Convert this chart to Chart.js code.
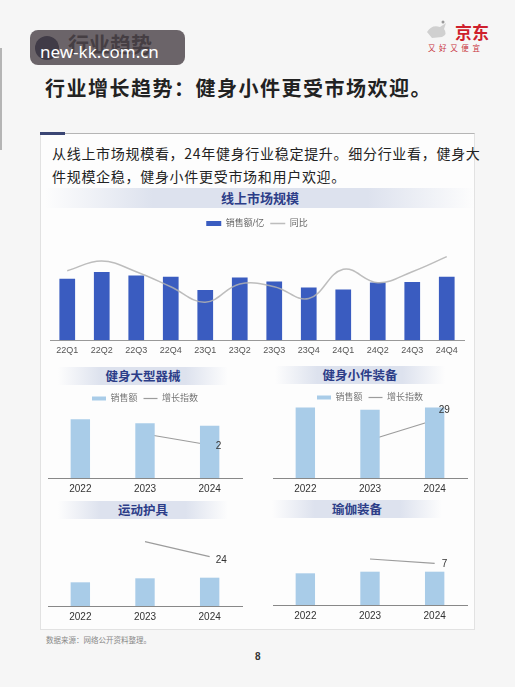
<!DOCTYPE html>
<html>
<head>
<meta charset="utf-8">
<script src="https://cdn.jsdelivr.net/npm/chart.js@4.4.1/dist/chart.umd.min.js"></script>
<style>
    body { margin: 0; width: 515px; height: 687px; background: #f6f6f6; position: relative; overflow: hidden; font-family: 'Noto Sans CJK SC', sans-serif; }
    .abs { position: absolute; }
    .band { position: absolute; height: 19px; line-height: 19px; text-align: center; font-weight: 700; color: #2c3d88;
        background: linear-gradient(to right, rgba(221,226,238,0), #dde2ee 25%, #dde2ee 75%, rgba(221,226,238,0)); }
    .small_band { font-size: 12.5px; height: 18px; line-height: 18px; }
</style>
</head>
<body>

<!-- header -->
<div class="abs" style="left:0;top:48px;width:2px;height:102px;background:#b5b5b5;"></div>
<div class="abs" style="left:35px;top:36px;width:24px;height:24px;border-radius:50%;background:#1f2a4a;"></div>
<div class="abs" style="left:68px;top:31px;font-size:21px;font-weight:700;color:#3a3a3a;line-height:24px;">行业趋势</div>
<div class="abs" style="left:30px;top:30px;width:155px;height:35px;border-radius:8px;background:rgba(72,64,70,0.8);"></div>
<div class="abs" style="left:40px;top:42px;font-family:'Noto Sans',sans-serif;font-size:17px;line-height:20px;color:#fff;">new-kk.com.cn</div>

<svg class="abs" style="left:424px;top:18px;" width="30" height="26">
    <path d="M3 14 Q8 6 16 9 L22 5 L20 11 Q24 16 18 19 L8 20 Z" fill="#d0d0d0"/>
    <circle cx="19" cy="4" r="1.5" fill="#999"/>
</svg>
<div class="abs" style="left:455px;top:21px;font-size:17px;font-weight:700;color:#cf1f2c;line-height:22px;">京东</div>
<div class="abs" style="left:428px;top:43px;font-size:7.5px;letter-spacing:3.6px;color:#c8323c;line-height:10px;">又好又便宜</div>

<div class="abs" style="left:45px;top:75px;font-size:20px;font-weight:700;letter-spacing:1.5px;color:#222;line-height:26px;">行业增长趋势：健身小件更受市场欢迎。</div>

<!-- card -->
<div class="abs" style="left:40px;top:133px;width:433px;height:495px;background:#fdfdfd;border:1px solid #e2e2e2;border-top:1px solid #b5b5b5;"></div>
<div class="abs" style="left:40px;top:132px;width:25px;height:3px;background:#3b4674;"></div>

<div class="abs" style="left:52px;top:142px;font-size:14px;line-height:23.4px;letter-spacing:0.7px;color:#222;white-space:nowrap;">从线上市场规模看，24年健身行业稳定提升。细分行业看，健身大<br>件规模企稳，健身小件更受市场和用户欢迎。</div>

<div class="band" style="left:45px;top:188px;width:430px;font-size:13px;height:20px;line-height:20px;">线上市场规模</div>
<div class="band small_band" style="left:58px;top:367px;width:170px;">健身大型器械</div>
<div class="band small_band" style="left:275px;top:366px;width:170px;">健身小件装备</div>
<div class="band small_band" style="left:58px;top:501px;width:170px;">运动护具</div>
<div class="band small_band" style="left:272px;top:500px;width:170px;">瑜伽装备</div>

<canvas id="market_chart" class="abs" style="left:40px;top:213px;" width="430" height="148"></canvas>
<canvas id="large_chart" class="abs" style="left:45px;top:388px;" width="200" height="112"></canvas>
<canvas id="small_chart" class="abs" style="left:270px;top:387px;" width="200" height="113"></canvas>
<canvas id="protect_chart" class="abs" style="left:45px;top:522px;" width="200" height="106"></canvas>
<canvas id="yoga_chart" class="abs" style="left:270px;top:522px;" width="200" height="105"></canvas>

<div class="abs" style="left:46px;top:634px;font-size:7.5px;color:#888;line-height:11px;">数据来源：网络公开资料整理。</div>
<div class="abs" style="left:255px;top:651px;font-family:'Liberation Sans',sans-serif;font-size:10px;font-weight:700;color:#333;">8</div>

<script>
// data
let market_labels = ['22Q1','22Q2','22Q3','22Q4','23Q1','23Q2','23Q3','23Q4','24Q1','24Q2','24Q3','24Q4'];
let market_sales = [61.3, 68, 64.7, 63.3, 50, 62.7, 58.7, 52.7, 50.7, 57.7, 58, 63.3];
let market_yoy = [9.7, 14.5, 9.2, 1.7, -6.0, 3.0, 1.7, -4.2, 10.4, 3.7, 9.2, 16.7];

let year_labels = ['2022','2023','2024'];
let large_sales = [58.7, 54.7, 52.3];
let large_index = [null, 6, 2];
let small_sales = [70.6, 68.3, 70.6];
let small_index = [null, 9, 29];
let protect_sales = [23.7, 27.7, 28.3];
let protect_index = [null, 30, 24];
let yoga_sales = [31.7, 33.3, 33.3];
let yoga_index = [null, 8, 7];

Chart.defaults.font.family = "'Liberation Sans', 'Noto Sans CJK SC', sans-serif";
Chart.defaults.animation = false;

// number next to the last point of the line
const endLabel = {
    id: 'endLabel',
    afterDatasetsDraw(chart, args, opts) {
        const data = chart.data.datasets[1].data;
        const i = data.length - 1;
        const pt = chart.getDatasetMeta(1).data[i];
        if (!pt) return;
        const ctx = chart.ctx;
        ctx.save();
        ctx.font = "10px 'Liberation Sans', sans-serif";
        ctx.fillStyle = '#333';
        ctx.textBaseline = 'middle';
        ctx.fillText(data[i], pt.x + opts.dx, pt.y + opts.dy);
        ctx.restore();
    }
};

//market chart

const market_config = {
    type: 'bar',
    data: {
        labels: market_labels,
        datasets: [{
            label: '销售额/亿',
            data: market_sales,
            backgroundColor: '#3a5cc0',
            barPercentage: 0.455,
            categoryPercentage: 1,
            pointStyle: 'rect',
            order: 1
        }, {
            type: 'line',
            label: '同比',
            data: market_yoy,
            yAxisID: 'y1',
            borderColor: 'rgba(178,178,178,0.85)',
            backgroundColor: 'rgba(178,178,178,0.85)',
            borderWidth: 1.5,
            pointRadius: 0,
            tension: 0.4,
            pointStyle: 'line',
            order: 0
        }]
    },
    options: {
        responsive: false,
        layout: { padding: { left: 10, right: 6 } },
        plugins: {
            legend: {
                maxHeight: 18,
                labels: {
                    usePointStyle: true,
                    pointStyleWidth: 15,
                    boxHeight: 5,
                    padding: 6,
                    color: '#666',
                    font: { size: 9 },
                    sort: (a, b) => a.datasetIndex - b.datasetIndex
                }
            },
            tooltip: { enabled: false }
        },
        scales: {
            x: {
                grid: { display: false, drawTicks: false },
                border: { color: '#999' },
                ticks: { color: '#555', font: { size: 9 }, padding: 5 }
            },
            y: { display: false, min: 0, max: 109 },
            y1: { display: false, min: -25, max: 29.5 }
        }
    }
};

const market_chart = new Chart(document.getElementById('market_chart'), market_config);

//small charts, one per segment

function smallConfig(sales, index, showLegend, ymax, y1min, y1max, dx, dy) {
    return {
        type: 'bar',
        data: {
            labels: year_labels,
            datasets: [{
                label: '销售额',
                data: sales,
                backgroundColor: '#a9cce8',
                barPercentage: 0.3,
                categoryPercentage: 1,
                pointStyle: 'rect',
                order: 1
            }, {
                type: 'line',
                label: '增长指数',
                data: index,
                yAxisID: 'y1',
                borderColor: '#9c9c9c',
                backgroundColor: '#9c9c9c',
                borderWidth: 1.2,
                pointRadius: 0,
                pointStyle: 'line',
                order: 2
            }]
        },
        options: {
            responsive: false,
            layout: { padding: { left: 3, right: 3 } },
            plugins: {
                legend: {
                    display: showLegend,
                    maxHeight: 18,
                    labels: {
                        usePointStyle: true,
                        pointStyleWidth: 14,
                        boxHeight: 4,
                        padding: 6,
                        color: '#777',
                        font: { size: 9 },
                        sort: (a, b) => a.datasetIndex - b.datasetIndex
                    }
                },
                tooltip: { enabled: false },
                endLabel: { dx: dx, dy: dy }
            },
            scales: {
                x: {
                    grid: { display: false, drawTicks: false },
                    border: { color: '#888' },
                    ticks: { color: '#333', font: { size: 10 }, padding: 5 }
                },
                y: { display: false, min: 0, max: ymax },
                y1: { display: false, min: y1min, max: y1max }
            }
        },
        plugins: [endLabel]
    };
}

const large_chart = new Chart(document.getElementById('large_chart'),
    smallConfig(large_sales, large_index, true, 72, -10, 16.18, 6, 1));

const small_chart = new Chart(document.getElementById('small_chart'),
    smallConfig(small_sales, small_index, true, 73, -29, 44, 4, -10));

const protect_chart = new Chart(document.getElementById('protect_chart'),
    smallConfig(protect_sales, protect_index, false, 84, 4.28, 37.88, 6, 4));

const yoga_chart = new Chart(document.getElementById('yoga_chart'),
    smallConfig(yoga_sales, yoga_index, false, 83, -2.7, 16.6, 7, 1));
</script>
</body>
</html>
